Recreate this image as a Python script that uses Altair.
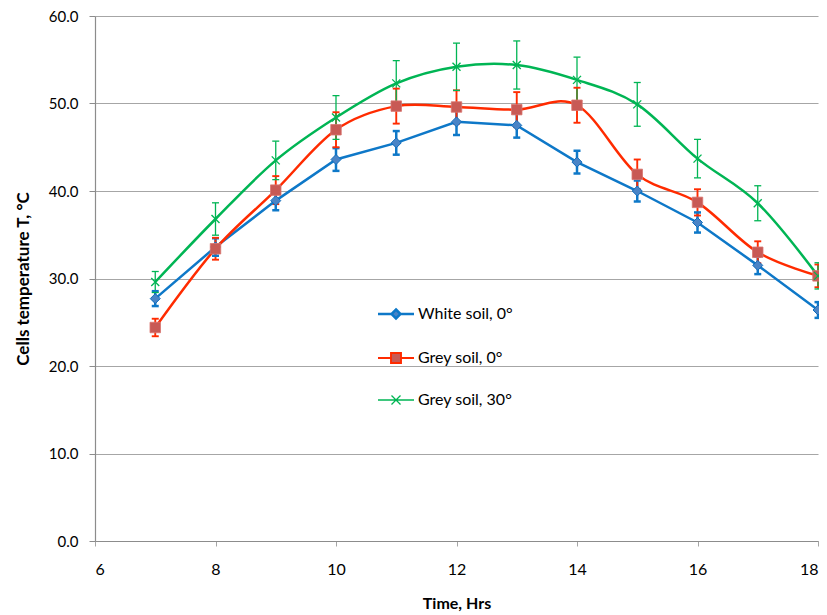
import altair as alt
import pandas as pd

# ---- data ----
time = [7, 8, 9, 10, 11, 12, 13, 14, 15, 16, 17, 18]
series_names = ["White soil, 0°", "Grey soil, 0°", "Grey soil, 30°"]
white = [27.7, 33.6, 38.9, 43.6, 45.5, 47.9, 47.5, 43.3, 40.0, 36.4, 31.5, 26.4]
white_err = [0.85, 1.0, 1.1, 1.3, 1.35, 1.5, 1.4, 1.3, 1.2, 1.15, 1.0, 0.9]
grey0 = [24.4, 33.4, 40.1, 47.0, 49.7, 49.6, 49.3, 49.8, 41.9, 38.7, 33.0, 30.3]
grey0_err = [1.0, 1.25, 1.6, 2.0, 2.0, 1.9, 2.0, 2.0, 1.7, 1.5, 1.25, 1.3]
grey30 = [29.6, 36.8, 43.5, 48.4, 52.3, 54.2, 54.4, 52.7, 49.9, 43.7, 38.6, 30.3]
grey30_err = [1.2, 1.85, 2.2, 2.5, 2.6, 2.7, 2.75, 2.6, 2.5, 2.2, 2.0, 1.5]
x_ticks = [6, 8, 10, 12, 14, 16, 18]
y_ticks = [0, 10, 20, 30, 40, 50, 60]

values = [white, grey0, grey30]
errors = [white_err, grey0_err, grey30_err]
rows = []
for name, vals, errs in zip(series_names, values, errors):
    for t, v, e in zip(time, vals, errs):
        rows.append({"time": t, "series": name, "value": v,
                     "lo": round(v - e, 3), "hi": round(v + e, 3)})
df = pd.DataFrame(rows)

line_colors = ["#0E78C8", "#FF2B00", "#00B554"]
fill_colors = ["#4A84C6", "#C85A55", "#00B554"]
legend_paths = [
    "M-3.6,0L-0.9,0M0.9,0L3.6,0M0,-0.9L0.9,0L0,0.9L-0.9,0Z",
    "M-3.6,0L-1,0M1,0L3.6,0M-1,-1L1,-1L1,1L-1,1Z",
    "M-3.6,0L3.6,0M-0.9,-0.9L0.9,0.9M-0.9,0.9L0.9,-0.9",
]

FONT = "Lato"
PLOT_H = 525

x_enc = alt.X("time:Q", scale=alt.Scale(domain=[6, 18], nice=False, zero=False),
              axis=alt.Axis(values=x_ticks, format="d", grid=False, title="Time, Hrs",
                            titleFont=FONT, titleFontSize=16, titleFontWeight="bold",
                            titleColor="black", titleX=361.5, titleY=62,
                            titleBaseline="middle", titleAlign="center",
                            labelFont=FONT, labelFontSize=16, labelColor="black",
                            labelPadding=15, tickSize=5, tickColor="#A6A6A6",
                            domainColor="#8C8C8C", domainWidth=1.2))
y_enc = alt.Y("value:Q", scale=alt.Scale(domain=[0, 60], nice=False),
              axis=alt.Axis(values=y_ticks, format=".1f", grid=True,
                            gridColor="#A6A6A6", gridWidth=1.2,
                            title="Cells temperature T, °C",
                            titleFont=FONT, titleFontSize=17, titleFontWeight="bold",
                            titleColor="black", titleX=-72, titleY=PLOT_H / 2,
                            titleAngle=-90, titleBaseline="middle", titleAlign="center",
                            labelFont=FONT, labelFontSize=15, labelColor="black",
                            labelPadding=11, tickSize=6, tickColor="#8C8C8C",
                            domainColor="#8C8C8C", domainWidth=1.2))

color_scale = alt.Scale(domain=series_names, range=line_colors)
color_nolegend = alt.Color("series:N", scale=color_scale, legend=None)
width_enc = alt.StrokeWidth("series:N",
                            scale=alt.Scale(domain=series_names, range=[2.5, 1.3, 1.3]),
                            legend=None)

base = alt.Chart(df)

# invisible layer that only carries the legend (first, so its legend settings win)
leg = alt.Legend(title=None, orient="none", legendX=293, legendY=290,
                 symbolSize=100, symbolStrokeWidth=2.2, symbolOpacity=1,
                 labelFont=FONT, labelFontSize=16, labelColor="black",
                 labelOffset=14, rowPadding=25, padding=0)
legend_layer = base.mark_point(opacity=0).encode(
    x=x_enc, y=y_enc,
    shape=alt.Shape("series:N", scale=alt.Scale(domain=series_names, range=legend_paths),
                    legend=leg),
    fill=alt.Fill("series:N", scale=alt.Scale(domain=series_names, range=fill_colors),
                  legend=leg),
    color=alt.Color("series:N", scale=color_scale, legend=leg),
)

err_rule = base.mark_rule().encode(
    x="time:Q", y=alt.Y("lo:Q"), y2="hi:Q", color=color_nolegend, strokeWidth=width_enc)
cap_top = base.mark_rule(xOffset=-3.5, x2Offset=3.5).encode(
    x="time:Q", x2="time:Q", y="hi:Q", color=color_nolegend, strokeWidth=width_enc)
cap_bot = base.mark_rule(xOffset=-3.5, x2Offset=3.5).encode(
    x="time:Q", x2="time:Q", y="lo:Q", color=color_nolegend, strokeWidth=width_enc)

line_white = base.transform_filter(alt.datum.series == series_names[0]).mark_line(
    strokeWidth=2.5, interpolate="linear").encode(
    x="time:Q", y="value:Q", color=color_nolegend, detail="series:N")
line_grey = base.transform_filter(alt.datum.series != series_names[0]).mark_line(
    strokeWidth=2.5, interpolate="cardinal").encode(
    x="time:Q", y="value:Q", color=color_nolegend, detail="series:N")

pt_white = base.transform_filter(alt.datum.series == series_names[0]).mark_point(
    shape="diamond", size=100, fill="#4A84C6", stroke="#0E6CBC", strokeWidth=1,
    opacity=1, filled=True).encode(x="time:Q", y="value:Q")
pt_grey0 = base.transform_filter(alt.datum.series == series_names[1]).mark_point(
    shape="square", size=110, fill="#C85A55", stroke="#D87570", strokeWidth=0.8,
    opacity=1, filled=True).encode(x="time:Q", y="value:Q")
pt_grey30 = base.transform_filter(alt.datum.series == series_names[2]).mark_point(
    shape="M-1,-1L1,1M-1,1L1,-1", size=64, stroke="#00B554", strokeWidth=1.4,
    opacity=1, filled=False).encode(x="time:Q", y="value:Q")

chart = alt.layer(
    legend_layer, err_rule, cap_top, cap_bot, line_white, line_grey,
    pt_white, pt_grey0, pt_grey30
).properties(
    width=723, height=PLOT_H,
    autosize=alt.AutoSizeParams(type="none"),
    padding={"left": 87, "top": 8, "right": 1, "bottom": 72},
    background="white",
).configure_view(stroke=None)

chart.save("out.html", embed_options={"renderer": "svg", "actions": False})
